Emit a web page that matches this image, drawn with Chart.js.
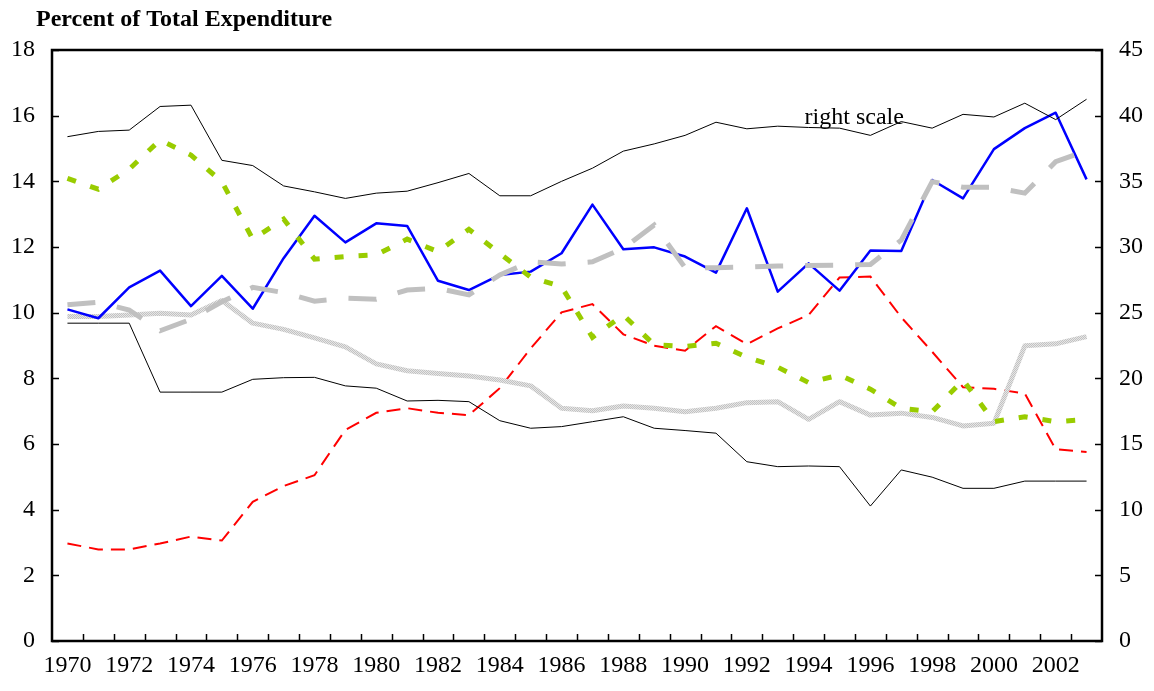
<!DOCTYPE html>
<html>
<head>
<meta charset="utf-8">
<title>Percent of Total Expenditure</title>
<script src="https://cdn.jsdelivr.net/npm/chart.js@4.4.1/dist/chart.umd.min.js"></script>
<style>
  html, body { margin: 0; padding: 0; background: #fff; }
  #wrap { width: 1154px; height: 691px; position: relative; }
</style>
</head>
<body>
<div id="wrap"><canvas id="expChart" width="1154" height="691"></canvas></div>
<script>
// --- data ---
const years = ['1970', '1971', '1972', '1973', '1974', '1975', '1976', '1977', '1978', '1979',
    '1980', '1981', '1982', '1983', '1984', '1985', '1986', '1987', '1988', '1989',
    '1990', '1991', '1992', '1993', '1994', '1995', '1996', '1997', '1998', '1999',
    '2000', '2001', '2002', '2003'];

// thin black line, read on the right axis
const rightScaleLine = [38.4, 38.8, 38.9, 40.7, 40.8, 36.6, 36.2, 34.65, 34.2, 33.7,
    34.1, 34.25, 34.9, 35.6, 33.9, 33.9, 35.0, 36.0, 37.3, 37.85,
    38.5, 39.5, 39.0, 39.2, 39.1, 39.05, 38.5, 39.55, 39.05, 40.1,
    39.9, 40.95, 39.7, 41.25];

// everything below is on the left axis
const lowerBlack = [9.68, 9.68, 9.68, 7.58, 7.58, 7.58, 7.97, 8.02, 8.03, 7.77,
    7.70, 7.31, 7.33, 7.29, 6.71, 6.48, 6.53, 6.68, 6.83, 6.48,
    6.41, 6.33, 5.46, 5.31, 5.33, 5.31, 4.11, 5.21, 4.99, 4.65,
    4.65, 4.87, 4.87, 4.87];

const blueLine = [10.10, 9.83, 10.77, 11.28, 10.20, 11.12, 10.12, 11.66, 12.95, 12.14,
    12.72, 12.64, 10.97, 10.69, 11.15, 11.25, 11.81, 13.29, 11.93, 11.99,
    11.71, 11.22, 13.18, 10.64, 11.50, 10.67, 11.89, 11.88, 14.04, 13.48,
    14.98, 15.62, 16.09, 14.06];

const greenDotted = [14.09, 13.76, 14.37, 15.26, 14.80, 13.99, 12.24, 12.85, 11.63, 11.71,
    11.76, 12.24, 11.86, 12.54, 11.80, 11.08, 10.79, 9.25, 9.93, 9.02,
    8.97, 9.07, 8.64, 8.34, 7.87, 8.10, 7.67, 7.09, 6.98, 7.95,
    6.68, 6.83, 6.68, 6.75];

const greyDashed = [10.24, 10.32, 10.08, 9.45, 9.80, 10.33, 10.77, 10.61, 10.35, 10.44,
    10.41, 10.69, 10.74, 10.54, 11.15, 11.55, 11.48, 11.55, 11.96, 12.67,
    11.37, 11.37, 11.39, 11.42, 11.44, 11.45, 11.47, 12.21, 13.99, 13.82,
    13.82, 13.64, 14.60, 14.93];

const lightGrey = [9.88, 9.88, 9.93, 9.98, 9.93, 10.37, 9.68, 9.49, 9.23, 8.96,
    8.44, 8.23, 8.15, 8.07, 7.95, 7.77, 7.09, 7.01, 7.16, 7.09,
    6.98, 7.09, 7.26, 7.29, 6.75, 7.29, 6.88, 6.94, 6.81, 6.55,
    6.63, 8.99, 9.05, 9.27];

const redDashed = [2.97, 2.79, 2.79, 2.97, 3.18, 3.06, 4.24, 4.72, 5.05, 6.43,
    6.95, 7.09, 6.95, 6.88, 7.70, 8.91, 10.01, 10.26, 9.34, 8.99,
    8.84, 9.59, 9.04, 9.52, 9.93, 11.07, 11.10, 9.86, 8.81, 7.73,
    7.68, 7.54, 5.84, 5.76];

const FONT = '"Liberation Serif", "Times New Roman", serif';

document.addEventListener('DOMContentLoaded', () => {
    const canvas = document.getElementById('expChart');
    const ctx = canvas.getContext('2d');

    // small grey checker texture for the pale line
    function checkerPattern() {
        const c = document.createElement('canvas');
        c.width = 2; c.height = 2;
        const g = c.getContext('2d');
        g.fillStyle = '#e6e6e6';
        g.fillRect(0, 0, 2, 2);
        g.fillStyle = '#c2c2c2';
        g.fillRect(0, 0, 1, 1);
        g.fillRect(1, 1, 1, 1);
        return ctx.createPattern(c, 'repeat');
    }

    // frame, inward tick marks and the loose texts
    const frameAndTicks = {
        id: 'frameAndTicks',
        afterDatasetsDraw(chart) {
            const { ctx, chartArea: a, scales } = chart;
            const xs = scales.x, yl = scales.y, yr = scales.y1;
            ctx.save();
            ctx.strokeStyle = '#000';
            ctx.lineWidth = 1.5;
            ctx.beginPath();
            yl.ticks.forEach(t => {
                const y = Math.round(yl.getPixelForValue(t.value)) + 0.5;
                ctx.moveTo(a.left, y);
                ctx.lineTo(a.left + 7, y);
            });
            yr.ticks.forEach(t => {
                const y = Math.round(yr.getPixelForValue(t.value)) + 0.5;
                ctx.moveTo(a.right, y);
                ctx.lineTo(a.right - 7, y);
            });
            for (let i = 1; i < years.length; i++) {
                const px = Math.round((xs.getPixelForValue(i - 1) + xs.getPixelForValue(i)) / 2) + 0.5;
                ctx.moveTo(px, a.bottom);
                ctx.lineTo(px, a.bottom - 7);
            }
            ctx.stroke();

            ctx.lineWidth = 2.5;
            ctx.strokeRect(a.left, a.top, a.right - a.left, a.bottom - a.top);

            ctx.fillStyle = '#000';
            ctx.textBaseline = 'alphabetic';
            ctx.textAlign = 'left';
            ctx.font = 'bold 24px ' + FONT;
            ctx.fillText('Percent of Total Expenditure', 36, 26);
            ctx.font = '24px ' + FONT;
            ctx.fillText('right scale', xs.getPixelForValue(24) - 4, yl.getPixelForValue(15.75));
            ctx.restore();
        }
    };

    const line = (data, color, width, dash, axis) => ({
        data: data,
        yAxisID: axis || 'y',
        borderColor: color,
        borderWidth: width,
        borderDash: dash || [],
        borderCapStyle: 'butt',
        borderJoinStyle: dash ? 'miter' : 'round',
        pointRadius: 0,
        tension: 0,
        fill: false
    });

    new Chart(ctx, {
        type: 'line',
        data: {
            labels: years,
            // first dataset ends up on top
            datasets: [
                line(rightScaleLine, '#000000', 1, null, 'y1'),
                line(lowerBlack, '#000000', 1),
                line(greenDotted, '#99cc00', 5, [9, 15]),
                line(greyDashed, '#c0c0c0', 5, [28, 22]),
                line(blueLine, '#0000ff', 2.5),
                line(lightGrey, checkerPattern(), 5),
                line(redDashed, '#ff0000', 2, [14, 8])
            ]
        },
        options: {
            responsive: false,
            animation: false,
            layout: { padding: { top: 50, left: 0, right: 0, bottom: 0 } },
            plugins: {
                legend: { display: false },
                tooltip: { enabled: false },
                title: { display: false }
            },
            scales: {
                x: {
                    type: 'category',
                    offset: true,
                    grid: { display: false, drawTicks: false },
                    border: { display: false },
                    ticks: {
                        autoSkip: false,
                        maxRotation: 0,
                        padding: 10,
                        color: '#000',
                        font: { family: FONT, size: 24 },
                        callback: (v, i) => (i % 2 === 0 ? years[i] : '')
                    },
                    afterFit: s => { s.height = 50; }
                },
                y: {
                    position: 'left',
                    min: 0,
                    max: 18,
                    grid: { display: false, drawTicks: false },
                    border: { display: false },
                    ticks: { stepSize: 2, padding: 17, color: '#000', font: { family: FONT, size: 24 } },
                    afterFit: s => { s.width = 52; }
                },
                y1: {
                    position: 'right',
                    min: 0,
                    max: 45,
                    grid: { display: false, drawTicks: false },
                    border: { display: false },
                    ticks: { stepSize: 5, padding: 17, color: '#000', font: { family: FONT, size: 24 } },
                    afterFit: s => { s.width = 52; }
                }
            }
        },
        plugins: [frameAndTicks]
    });
});
</script>
</body>
</html>
